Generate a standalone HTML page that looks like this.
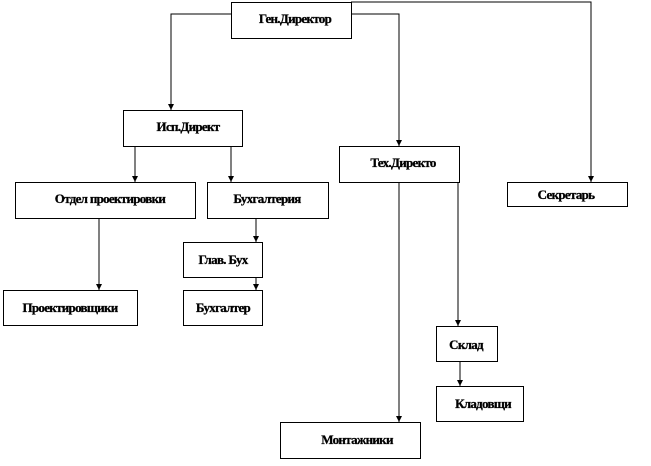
<!DOCTYPE html>
<html><head><meta charset="utf-8"><style>
body{margin:0;background:#fff;width:651px;height:461px;overflow:hidden}
svg text{font-family:"Liberation Serif",serif;font-weight:bold;font-size:13px;letter-spacing:-0.7px;stroke:#000;stroke-width:0.3px}
</style></head><body>
<svg width="651" height="461" viewBox="0 0 651 461" xmlns="http://www.w3.org/2000/svg">
<defs><marker id="a" markerWidth="7" markerHeight="7" refX="6" refY="3" orient="auto" markerUnits="userSpaceOnUse"><path d="M0,0 L6,3 L0,6 Z" fill="#000"/></marker></defs>
<g fill="none" stroke="#000" stroke-width="1">
<polyline points="231,14 171,14 171,110" marker-end="url(#a)"/>
<polyline points="351,14 399,14 399,146" marker-end="url(#a)"/>
<polyline points="351,2 591,2 591,182" marker-end="url(#a)"/>
<line x1="135" y1="146" x2="135" y2="182" marker-end="url(#a)"/>
<line x1="231" y1="146" x2="231" y2="182" marker-end="url(#a)"/>
<line x1="99" y1="218" x2="99" y2="290" marker-end="url(#a)"/>
<line x1="256" y1="218" x2="256" y2="242" marker-end="url(#a)"/>
<line x1="256" y1="277" x2="256" y2="290" marker-end="url(#a)"/>
<line x1="399" y1="182" x2="399" y2="422" marker-end="url(#a)"/>
<line x1="458" y1="182" x2="458" y2="326" marker-end="url(#a)"/>
<line x1="460" y1="362" x2="460" y2="386" marker-end="url(#a)"/>
<rect x="231.5" y="2.5" width="120" height="36"/>
<rect x="123.5" y="110.5" width="119" height="36"/>
<rect x="15.5" y="182.5" width="180" height="36"/>
<rect x="207.5" y="182.5" width="121" height="36"/>
<rect x="3.5" y="290.5" width="134" height="35"/>
<rect x="183.5" y="242.5" width="79" height="35"/>
<rect x="183.5" y="290.5" width="79" height="35"/>
<rect x="339.5" y="146.5" width="120" height="36"/>
<rect x="507.5" y="182.5" width="120" height="24"/>
<rect x="436.5" y="326.5" width="61" height="35"/>
<rect x="436.5" y="386.5" width="87" height="35"/>
<rect x="280.5" y="422.5" width="140" height="36"/>
</g>
<g text-anchor="middle">
<text x="295" y="23">Ген.Директор</text>
<text x="188" y="131">Исп.Директ</text>
<text x="110" y="203">Отдел проектировки</text>
<text x="267" y="203">Бухгалтерия</text>
<text x="70" y="312">Проектировщики</text>
<text x="223" y="264">Глав. Бух</text>
<text x="223" y="312">Бухгалтер</text>
<text x="403" y="167">Тех.Директо</text>
<text x="566" y="199">Секретарь</text>
<text x="466" y="349">Склад</text>
<text x="483" y="408">Кладовщи</text>
<text x="357" y="444">Монтажники</text>
</g>
</svg>
</body></html>
